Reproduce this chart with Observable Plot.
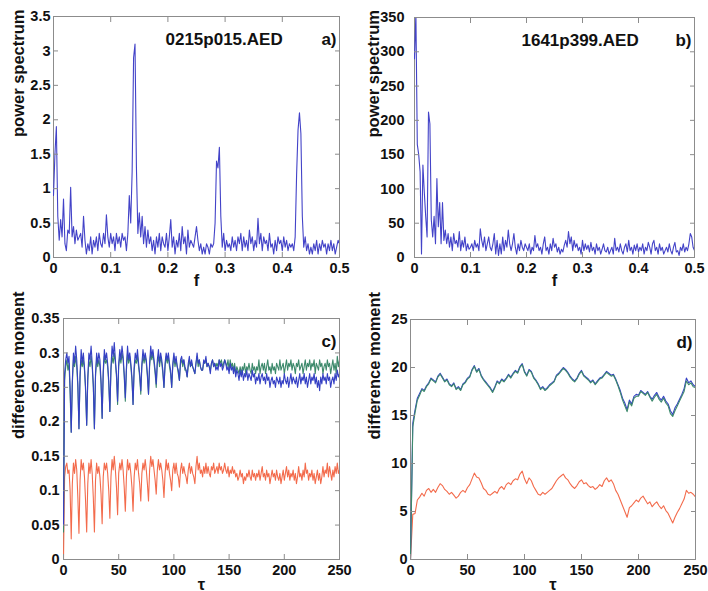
<!DOCTYPE html>
<html><head><meta charset="utf-8">
<script src="https://cdn.jsdelivr.net/npm/d3@7"></script>
<script src="https://cdn.jsdelivr.net/npm/@observablehq/plot@0.6"></script>
<style>
body{margin:0;background:#fff;}
#fig{position:relative;width:708px;height:591px;overflow:hidden;background:#fff;}
#fig > div{position:absolute;}
</style></head><body><div id="fig"></div>
<script>
// ---- tick values ----
const fTicks = [0, 0.1, 0.2, 0.3, 0.4, 0.5];
const tauTicks = [0, 50, 100, 150, 200, 250];
const yTicksA = [0, 0.5, 1, 1.5, 2, 2.5, 3, 3.5];
const yTicksB = [0, 50, 100, 150, 200, 250, 300, 350];
const yTicksC = [0, 0.05, 0.1, 0.15, 0.2, 0.25, 0.3, 0.35];
const yTicksD = [0, 5, 10, 15, 20, 25];

// ---- labels ----
const fileA = "0215p015.AED", fileB = "1641p399.AED";
const tags = ["a)", "b)", "c)", "d)"];
const specLabel = "power spectrum", momLabel = "difference moment";
const fLabel = "f", tauLabel = "τ";

// ---- spectra, frequency step 0.0025 from f = 0 ----
const fStep = 0.0025;
const specA = [
 0.9,1.5,1.9,0.6,0.25,0.55,0.3,0.85,0.2,0.1,0.4,0.35,1.02,0.3,0.45,0.2,0.4,0.25,0.3,0.35,
 0.15,0.6,0.25,0.05,0.2,0.1,0.3,0.05,0.25,0.15,0.3,0.1,0.35,0.2,0.15,0.35,0.2,0.62,0.3,0.15,
 0.35,0.2,0.3,0.1,0.35,0.2,0.3,0.15,0.35,0.25,0.3,0.1,0.35,0.9,0.5,1.25,2.9,3.1,1.3,0.35,
 0.65,0.3,0.6,0.2,0.45,0.15,0.4,0.2,0.3,0.1,0.25,0.05,0.3,0.15,0.35,0.1,0.3,0.2,0.15,0.35,
 0.1,0.3,0.55,0.15,0.3,0.05,0.25,0.15,0.35,0.1,0.45,0.2,0.3,0.05,0.4,0.15,0.25,0.2,0.15,0.3,
 0.45,0.25,0.1,0.2,0.05,0.15,0.05,0.2,0.15,0.05,0.2,0.15,0.2,0.5,1.4,1.3,1.6,0.6,0.15,0.35,
 0.1,0.25,0.15,0.2,0.1,0.3,0.15,0.25,0.1,0.3,0.2,0.35,0.1,0.3,0.15,0.25,0.1,0.4,0.2,0.3,
 0.1,0.25,0.15,0.57,0.2,0.35,0.1,0.3,0.2,0.25,0.1,0.35,0.15,0.2,0.05,0.25,0.1,0.3,0.2,0.25,
 0.1,0.3,0.15,0.25,0.1,0.2,0.15,0.2,0.1,0.3,1.2,1.85,2.1,1.8,0.6,0.15,0.3,0.1,0.2,0.05,
 0.15,0.05,0.2,0.1,0.25,0.05,0.2,0.1,0.25,0.15,0.2,0.05,0.2,0.1,0.25,0.1,0.2,0.05,0.15,0.25,
 0.2
];
const specB = [
 290,355,165,150,125,5,135,95,60,30,212,195,55,30,60,20,115,45,80,20,
 80,25,40,20,35,15,30,10,35,20,25,15,38,10,25,15,30,10,20,12,
 15,20,10,25,15,20,10,42,25,15,30,10,20,30,15,10,20,35,5,25,
 3,20,5,30,10,25,15,40,20,10,20,35,15,5,20,10,25,15,10,20,
 15,10,20,5,15,10,32,15,20,10,15,5,20,30,10,15,5,20,10,28,
 15,20,8,15,5,12,8,18,25,15,38,20,30,10,25,15,20,10,15,5,
 25,10,20,12,18,8,22,10,15,5,20,10,15,5,12,20,10,8,15,5,
 10,15,5,28,10,15,8,20,10,5,15,20,8,25,10,15,5,18,10,20,
 8,15,10,20,5,15,10,22,15,5,20,25,10,15,5,20,10,15,5,10,
 15,8,20,10,5,15,22,8,10,3,15,10,20,8,15,10,20,35,30,15,
 10
];

// ---- difference moments, tau step 1 from 0 (panel c) ----
const cBlue = [
 .05,.27,.29,.30,.285,.295,.25,
 .185,.26,.30,.285,.31,.29,.255,
 .19,.27,.305,.285,.30,.28,.25,
 .195,.265,.30,.29,.31,.285,.255,
 .19,.27,.30,.285,.30,.29,.26,
 .205,.275,.305,.29,.30,.285,.26,
 .215,.28,.31,.295,.315,.29,.27,
 .23,.285,.305,.29,.31,.295,.27,
 .235,.28,.31,.29,.30,.285,.265,
 .225,.28,.30,.29,.305,.285,.27,
 .245,.285,.305,.29,.30,.29,.27,
 .24,.285,.31,.295,.305,.29,.275,
 .255,.29,.305,.285,.30,.29,.275,
 .25,.285,.30,.29,.30,.285,.275,
 .25,.285,.30,.285,.295,.28,.275,
 .26,.29,.295,.285,.29,.28,.275,
 .265,.285,.295,.28,.29,.28,.275,
 .27,.285,.30,.285,.29,.28,.275,
 .275,.29,.285,.295,.28,.285,.28,
 .27,.285,.29,.28,.285,.275,.28,
 .275,.29,.28,.285,.275,.28,.29,
 .285,.275,.28,.27,.285,.275,.28,
 .27,.28,.265,.275,.27,.26,.275,
 .265,.275,.26,.27,.265,.275,.26,
 .27,.265,.26,.275,.265,.27,.255,
 .265,.26,.27,.255,.265,.27,.26,
 .265,.255,.27,.26,.265,.25,.26,
 .265,.255,.26,.25,.265,.26,.255,
 .265,.25,.26,.255,.27,.26,.255,
 .265,.25,.26,.27,.255,.265,.26,
 .255,.265,.25,.26,.27,.255,.265,
 .26,.27,.255,.265,.25,.26,.27,
 .255,.265,.26,.27,.255,.265,.25,
 .26,.245,.265,.255,.27,.26,.265,
 .255,.27,.26,.265,.25,.26,.265,
 .255,.27,.26,.275,.265,.27
];
const cGreen = [
 .04,.26,.28,.29,.275,.285,.24,
 .185,.255,.29,.28,.295,.28,.25,
 .19,.265,.29,.28,.29,.275,.245,
 .195,.26,.29,.28,.295,.28,.25,
 .19,.265,.29,.28,.29,.28,.255,
 .205,.27,.295,.285,.29,.28,.255,
 .215,.275,.295,.285,.30,.285,.265,
 .225,.28,.295,.285,.30,.29,.265,
 .23,.275,.30,.285,.295,.28,.26,
 .225,.275,.29,.285,.295,.28,.265,
 .24,.28,.295,.285,.295,.285,.265,
 .24,.28,.30,.29,.30,.285,.27,
 .25,.285,.295,.28,.295,.285,.27,
 .25,.28,.295,.285,.295,.28,.27,
 .25,.28,.295,.28,.29,.28,.27,
 .26,.285,.29,.28,.29,.275,.275,
 .265,.28,.29,.28,.285,.28,.275,
 .27,.285,.295,.28,.29,.28,.275,
 .275,.285,.285,.29,.28,.285,.28,
 .275,.285,.29,.28,.285,.28,.285,
 .28,.29,.285,.29,.28,.285,.29,
 .285,.28,.29,.275,.29,.28,.285,
 .275,.285,.27,.28,.275,.27,.28,
 .27,.28,.275,.285,.27,.28,.275,
 .285,.275,.27,.285,.275,.28,.27,
 .28,.275,.29,.27,.28,.285,.275,
 .285,.27,.28,.29,.275,.28,.27,
 .285,.275,.28,.27,.285,.28,.275,
 .29,.275,.28,.285,.27,.28,.29,
 .275,.285,.28,.29,.275,.285,.28,
 .27,.285,.28,.29,.275,.28,.285,
 .27,.28,.29,.275,.285,.28,.29,
 .275,.285,.28,.29,.27,.285,.28,
 .275,.29,.28,.285,.27,.28,.285,
 .275,.29,.28,.285,.27,.28,.29,
 .275,.285,.27,.295,.28,.29
];
const cOrange = [
 .0,.12,.135,.14,.125,.13,.1,
 .03,.11,.14,.125,.145,.13,.09,
 .038,.115,.145,.13,.14,.12,.085,
 .04,.11,.14,.125,.145,.125,.09,
 .04,.115,.14,.125,.135,.12,.095,
 .052,.12,.14,.13,.14,.125,.1,
 .06,.12,.145,.13,.15,.13,.105,
 .065,.125,.14,.13,.145,.13,.105,
 .07,.12,.145,.13,.14,.125,.105,
 .07,.12,.14,.13,.145,.125,.11,
 .085,.125,.14,.13,.145,.13,.11,
 .085,.13,.15,.135,.145,.13,.115,
 .095,.13,.145,.13,.14,.13,.115,
 .09,.125,.145,.13,.14,.125,.115,
 .1,.13,.14,.125,.14,.125,.12,
 .105,.13,.14,.125,.135,.125,.12,
 .11,.13,.14,.125,.135,.125,.12,
 .11,.135,.15,.13,.14,.125,.13,
 .12,.135,.125,.14,.125,.135,.125,
 .12,.135,.13,.14,.125,.13,.135,
 .125,.14,.13,.135,.125,.13,.14,
 .13,.125,.135,.12,.13,.125,.135,
 .125,.13,.12,.125,.115,.12,.13,
 .12,.125,.11,.12,.115,.125,.12,
 .13,.12,.115,.13,.12,.125,.115,
 .125,.12,.13,.115,.125,.135,.12,
 .125,.115,.13,.12,.125,.11,.12,
 .13,.12,.125,.115,.13,.12,.115,
 .125,.11,.12,.13,.115,.125,.135,
 .12,.13,.115,.125,.12,.13,.115,
 .125,.11,.12,.135,.12,.125,.115,
 .13,.12,.14,.125,.13,.115,.125,
 .12,.13,.115,.125,.11,.12,.13,
 .115,.125,.11,.12,.135,.12,.13,
 .125,.14,.12,.135,.125,.115,.13,
 .12,.135,.125,.14,.125,.13
];

// ---- difference moments, tau step 2 from 0 (panel d) ----
const dStep = 2;
const dBlue = [
 0,14.2,15.6,16.8,17.3,17.8,17.6,18.1,18.4,18.9,18.7,18.5,19.1,19.4,19.0,18.6,18.8,18.3,18.1,18.4,
 17.8,18.0,17.7,18.3,18.5,18.9,19.1,19.8,20.2,19.6,19.9,19.2,18.8,18.5,18.2,17.9,17.5,18.0,18.6,18.4,
 18.8,18.6,18.9,19.3,19.0,19.4,19.7,19.5,20.1,20.4,19.6,19.2,19.8,19.6,19.0,18.7,18.3,17.8,18.0,17.7,
 17.9,18.2,18.4,18.6,19.2,19.4,19.7,20.0,19.8,19.5,19.1,18.8,18.6,18.9,19.4,19.7,19.2,19.0,18.8,18.5,
 18.7,18.3,18.6,18.9,19.0,19.3,19.6,19.4,19.2,19.3,18.8,18.2,17.6,16.8,16.3,15.6,16.6,16.2,17.0,17.2,
 17.1,17.6,17.4,17.2,17.5,17.0,16.7,17.1,17.4,16.9,16.6,17.0,16.5,16.2,15.5,15.1,15.8,16.2,16.7,17.2,
 17.8,18.9,18.4,18.6,18.2,18.0
];
const dGreen = [
 0,13.8,15.3,16.6,17.1,17.7,17.5,18.0,18.3,18.8,18.6,18.4,19.0,19.3,18.9,18.5,18.7,18.2,18.0,18.3,
 17.7,17.9,17.6,18.2,18.4,18.8,19.0,19.7,20.1,19.5,19.8,19.1,18.7,18.4,18.1,17.8,17.4,17.9,18.5,18.3,
 18.7,18.5,18.8,19.2,18.9,19.3,19.6,19.4,20.0,20.3,19.5,19.1,19.7,19.5,18.9,18.6,18.2,17.7,17.9,17.6,
 17.8,18.1,18.3,18.5,19.1,19.3,19.6,19.9,19.7,19.4,19.0,18.7,18.5,18.8,19.3,19.6,19.1,18.9,18.7,18.4,
 18.6,18.2,18.5,18.8,18.9,19.2,19.5,19.3,19.1,19.2,18.7,18.1,17.4,16.6,16.0,15.4,16.4,16.0,16.8,17.0,
 17.0,17.5,17.3,17.1,17.4,16.9,16.5,16.9,17.2,16.7,16.4,16.8,16.3,16.0,15.2,14.9,15.5,16.0,16.5,17.0,
 17.5,18.6,18.2,18.4,18.0,17.9
];
const dOrange = [
 0,4.7,4.8,6.2,6.5,6.9,6.6,7.2,7.4,7.0,7.3,7.0,7.5,7.9,7.7,7.3,7.1,6.8,7.0,6.7,
 6.4,6.6,7.0,7.2,7.0,7.5,7.8,8.4,9.0,8.6,8.5,8.0,7.4,7.2,6.8,6.7,6.9,7.1,6.9,7.4,
 7.6,7.3,7.8,8.0,7.8,8.2,8.4,8.3,8.9,9.2,8.4,7.9,8.5,8.2,7.6,7.2,6.8,6.7,7.0,6.8,
 7.0,7.2,7.4,7.8,8.2,8.5,8.7,8.9,8.5,8.3,7.9,7.6,7.4,7.7,8.1,8.3,7.9,8.0,7.7,7.5,
 7.6,7.3,7.5,7.8,7.6,8.2,8.5,8.1,8.3,7.9,7.2,6.8,6.2,5.6,5.0,4.4,5.4,5.6,5.9,6.2,
 6.0,6.4,6.6,6.2,5.8,6.0,5.5,5.8,6.0,5.6,5.3,5.6,5.1,4.8,4.3,3.8,4.4,4.9,5.3,5.8,
 6.3,7.2,6.9,7.0,6.8,6.5
];

// ---- colours ----
const specColor = "#4343c8";
const blueColor = "#3540c4", greenColor = "#3d8a6c", orangeColor = "#f36b4c";

const FONT = "'Liberation Sans', Arial, Helvetica, sans-serif";
const fmt = d => String(d);

function panel(opt) {
  const {left, top, width, height, ml, mr, mt, mb, xDomain, yDomain, xTicks, yTicks,
         series, ylabel, xlabel, name, nameDx, tag, yPad, yLabelDx, xLabelDy} = opt;
  const marks = [
    Plot.frame({stroke: "#8c8c8c"}),
    ...series.map(s => Plot.line(s.values, {
      x: (d, i) => i * s.step, y: d => d, stroke: s.color, strokeWidth: 1.1, clip: true
    })),
    Plot.axisX(xTicks, {anchor: "bottom", tickSize: -5, tickPadding: 10, stroke: "#8c8c8c",
      fontSize: 14.5, fontWeight: "bold", tickFormat: fmt, label: null}),
    Plot.axisX(xTicks, {anchor: "top", tickSize: -5, stroke: "#8c8c8c", tickFormat: () => "", label: null}),
    Plot.axisY(yTicks, {anchor: "left", tickSize: -5, tickPadding: yPad, stroke: "#8c8c8c",
      fontSize: 14.5, fontWeight: "bold", tickFormat: fmt, label: null}),
    Plot.axisY(yTicks, {anchor: "right", tickSize: -5, stroke: "#8c8c8c", tickFormat: () => "", label: null}),
    Plot.text([ylabel], {frameAnchor: "left", rotate: -90, dx: yLabelDx, fontSize: 16.5, fontWeight: "bold"}),
    Plot.text([xlabel], {frameAnchor: "bottom", dy: xLabelDy, fontSize: 16.5, fontWeight: "bold"}),
    Plot.text([tag], {frameAnchor: "top-right", textAnchor: "end", dx: -3, dy: 16, fontSize: 17, fontWeight: "bold"})
  ];
  if (name) marks.push(Plot.text([name], {frameAnchor: "top-left", textAnchor: "start", dx: nameDx, dy: 16, fontSize: 17, fontWeight: "bold"}));
  const chart = Plot.plot({
    width, height, marginLeft: ml, marginRight: mr, marginTop: mt, marginBottom: mb,
    x: {domain: xDomain}, y: {domain: yDomain},
    style: {fontFamily: FONT, color: "#111", background: "transparent", overflow: "visible"},
    marks
  });
  const wrap = document.createElement("div");
  wrap.style.left = left + "px"; wrap.style.top = top + "px";
  wrap.appendChild(chart);
  document.getElementById("fig").appendChild(wrap);
}

panel({left: 0, top: 0, width: 354, height: 295, ml: 53, mr: 15, mt: 16, mb: 38,
  xDomain: [0, 0.5], yDomain: [0, 3.5], xTicks: fTicks, yTicks: yTicksA,
  series: [{values: specA, step: fStep, color: specColor}],
  ylabel: specLabel, xlabel: fLabel, name: fileA, nameDx: 112, tag: tags[0], yPad: 8, yLabelDx: -35, xLabelDy: 28});

panel({left: 354, top: 0, width: 354, height: 295, ml: 60, mr: 14, mt: 17, mb: 38,
  xDomain: [0, 0.5], yDomain: [0, 350], xTicks: fTicks, yTicks: yTicksB,
  series: [{values: specB, step: fStep, color: specColor}],
  ylabel: specLabel, xlabel: fLabel, name: fileB, nameDx: 107, tag: tags[1], yPad: 15, yLabelDx: -41, xLabelDy: 28});

panel({left: 0, top: 295, width: 354, height: 296, ml: 63, mr: 15, mt: 23, mb: 32,
  xDomain: [0, 250], yDomain: [0, 0.35], xTicks: tauTicks, yTicks: yTicksC,
  series: [{values: cOrange, step: 1, color: orangeColor}, {values: cGreen, step: 1, color: greenColor}, {values: cBlue, step: 1, color: blueColor}],
  ylabel: momLabel, xlabel: tauLabel, name: null, tag: tags[2], yPad: 9, yLabelDx: -45, xLabelDy: 30});

panel({left: 354, top: 295, width: 354, height: 296, ml: 56, mr: 13, mt: 24, mb: 32,
  xDomain: [0, 250], yDomain: [0, 25], xTicks: tauTicks, yTicks: yTicksD,
  series: [{values: dOrange, step: dStep, color: orangeColor}, {values: dBlue, step: dStep, color: blueColor}, {values: dGreen, step: dStep, color: greenColor}],
  ylabel: momLabel, xlabel: tauLabel, name: null, tag: tags[3], yPad: 8, yLabelDx: -36, xLabelDy: 30});
</script></body></html>
